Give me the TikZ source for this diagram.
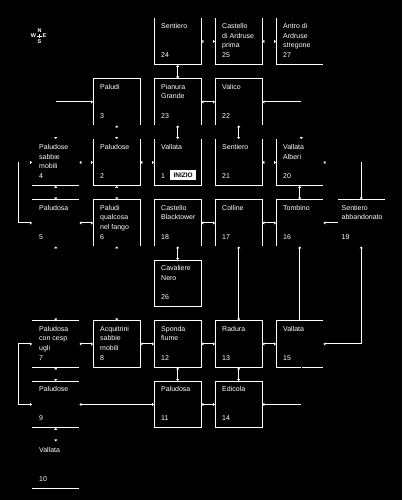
\documentclass[tikz,border=0pt]{standalone}
\usepackage{fontspec}
\setmainfont{Liberation Sans}
\usetikzlibrary{arrows.meta}
\tikzset{
  tp/.tip={Latex[length=2pt,width=3.6pt]},
  wtp/.tip={Latex[length=2pt,width=3.6pt,color=white]},
  box/.style={draw=none,minimum width=47pt,minimum height=46.5pt,inner sep=0pt,anchor=north west},
  edge/.style={white,line width=1pt},
  txt/.style={text=white,anchor=north west,inner sep=0pt,align=left,font=\fontsize{7}{9.5}\selectfont},
  num/.style={text=white,anchor=base west,inner sep=0pt,font=\fontsize{7}{9.5}\selectfont},
  link/.style={white,line width=1pt},
  ghost/.style={black,line width=1pt},
  cmp/.style={text=white,inner sep=0pt,font=\fontsize{5.5}{6}\selectfont\bfseries},
}
\newcommand{\rt}[3]{%
  \node[txt] (t#1) at ([shift={(7,5.5)}]b#1.north west) {#2};
  \node[num] (n#1) at ([shift={(7,39.5)}]b#1.north west) {#3};}
\begin{document}
\begin{tikzpicture}[x=1pt,y=-1pt]
\fill[black] (0,0) rectangle (402,500);
\useasboundingbox (0,0) rectangle (402,500);

% compass
\node[cmp] (cn) at (39.5,30.5) {N};
\node[cmp] (cw) at (33.5,36) {W};
\node[cmp] (ce) at (44.5,36) {E};
\node[cmp] (cs) at (39.5,41.5) {S};
\draw[white,line width=0.7pt] (37.3,36) -- (41.7,36) (39.5,34) -- (39.5,38);

% boxes
\node[box] (b24) at (154,18) {};
\node[box] (b25) at (215,18) {};
\node[box] (b27) at (276,18) {};
\node[box] (b3)  at (93,78.5) {};
\node[box] (b23) at (154,78.5) {};
\node[box] (b22) at (215,78.5) {};
\node[box] (b4)  at (32,139) {};
\node[box] (b2)  at (93,139) {};
\node[box] (b1)  at (154,139) {};
\node[box] (b21) at (215,139) {};
\node[box] (b20) at (276,139) {};
\node[box] (b5)  at (32,199.5) {};
\node[box] (b6)  at (93,199.5) {};
\node[box] (b18) at (154,199.5) {};
\node[box] (b17) at (215,199.5) {};
\node[box] (b16) at (276,199.5) {};
\node[box] (b19) at (337.5,199.5) {};
\node[box] (b26) at (154,260) {};
\node[box] (b7)  at (32,320.5) {};
\node[box] (b8)  at (93,320.5) {};
\node[box] (b12) at (154,320.5) {};
\node[box] (b13) at (215,320.5) {};
\node[box] (b15) at (276,320.5) {};
\node[box] (b9)  at (32,381) {};
\node[box] (b11) at (154,381) {};
\node[box] (b14) at (215,381) {};
\node[box] (b10) at (32,441.5) {};

% visible box edges
\foreach \b in {b24,b25,b2,b1,b21}
  \draw[edge] (\b.north west) |- (\b.south east) -- (\b.north east);
\foreach \b in {b3,b23,b22,b6,b18,b17}
  \draw[edge] (\b.south west) |- (\b.north east) -- (\b.south east);
\foreach \b in {b27,b20}
  \draw[edge] (\b.north west) |- (\b.south east);
\foreach \b in {b4,b10,b7,b9}
  \draw[edge] (\b.south west) -- (\b.south east);
\foreach \b in {b5,b19,b7,b9}
  \draw[edge] (\b.north west) -- (\b.north east);
\draw[edge] (b16.south west) |- (b16.north east);
\foreach \b in {b26,b8,b12,b13,b11,b14}
  \draw[edge] (\b.north west) rectangle (\b.south east);
\draw[edge] (b15.north east) -| (b15.south west) -- (b15.south east);

% texts
\rt{24}{Sentiero}{24}
\rt{25}{Castello\\di Ardruse\\prima}{25}
\rt{27}{Antro di\\Ardruse\\stregone}{27}
\rt{3}{Paludi}{3}
\rt{23}{Pianura\\Grande}{23}
\rt{22}{Valico}{22}
\rt{4}{Paludose\\sabbie\\mobili}{4}
\rt{2}{Paludose}{2}
\rt{1}{Vallata}{1}
\rt{21}{Sentiero}{21}
\rt{20}{Vallata\\Alberi}{20}
\rt{5}{Paludosa}{5}
\rt{6}{Paludi\\qualcosa\\nel fango}{6}
\rt{18}{Castello\\Blacktower}{18}
\rt{17}{Colline}{17}
\rt{16}{Tombino}{16}
\node[txt] (t19) at ([shift={(4,5.5)}]b19.north west) {Sentiero\\abbandonato};
\node[num] (n19) at ([shift={(4,39.5)}]b19.north west) {19};
\rt{26}{Cavaliere\\Nero}{26}
\rt{7}{Paludosa\\con cesp\\ugli}{7}
\rt{8}{Acquitrini\\sabbie\\mobili}{8}
\rt{12}{Sponda\\fiume}{12}
\rt{13}{Radura}{13}
\rt{15}{Vallata}{15}
\rt{9}{Paludose}{9}
\rt{11}{Paludosa}{11}
\rt{14}{Edicola}{14}
\rt{10}{Vallata}{10}
\node[fill=white,text=black,inner sep=0pt,minimum width=26pt,minimum height=10pt,anchor=north west,font=\fontsize{6.5}{7}\selectfont\bfseries] (start) at ([shift={(16,31)}]b1.north west) {INIZIO};

% connectors: row 1
\draw[ghost,wtp-wtp] (b24.east) -- (b25.west);
\draw[ghost,wtp-wtp] (b25.east) -- (b27.west);
\draw[link,tp-tp] (b24.south) -- (b23.north);
% row 2
\coordinate (e4) at (b4.north |- b3.west);
\draw[ghost,wtp-] (b4.north) -- (e4);
\draw[link,-tp] (e4) -- (b3.west);
\draw[link,tp-tp] (b23.east) -- (b22.west);
\coordinate (e20a) at ([xshift=1.5pt]b20.north);
\coordinate (e20b) at (e20a |- b22.east);
\draw[ghost,wtp-] (e20a) -- (e20b);
\draw[link,-tp] (e20b) -- (b22.east);
\draw[ghost,wtp-wtp] (b3.south) -- (b2.north);
\draw[link,tp-tp] (b23.south) -- (b1.north);
\draw[link,tp-tp] (b22.south) -- (b21.north);
% row 3
\draw[ghost,wtp-wtp] (b4.east) -- (b2.west);
\draw[ghost,wtp-wtp] (b2.east) -- (b1.west);
\draw[ghost,wtp-wtp] (b21.east) -- (b20.west);
\coordinate (e19) at (b19.north |- b20.east);
\draw[ghost,wtp-] (b20.east) -- (e19);
\draw[link,-tp] (e19) -- (b19.north);
\coordinate (l4) at ([xshift=-14pt]b4.west);
\coordinate (l5) at (l4 |- b5.west);
\draw[ghost,wtp-] (b4.west) -- (l4);
\draw[link,-tp] (l4) -- (l5) -- (b5.west);
\draw[ghost,wtp-wtp] (b4.south) -- (b5.north);
\draw[ghost,wtp-wtp] (b2.south) -- (b6.north);
\draw[link,tp-tp] (b20.south) -- (b16.north);
% row 4
\draw[link,tp-tp] (b5.east) -- (b6.west);
\draw[link,tp-tp] (b18.east) -- (b17.west);
\draw[link,tp-tp] (b17.east) -- (b16.west);
\draw[link,-tp] (b19.west) -- (b16.east);
\draw[ghost,wtp-wtp] (b5.south) -- (b7.north);
\draw[ghost,wtp-wtp] (b6.south) -- (b8.north);
\draw[link,tp-tp] (b18.south) -- (b26.north);
\draw[link,tp-tp] (b17.south) -- (b13.north);
\draw[link,-tp] (b15.north) -- (b16.south);
\coordinate (c19) at (b19.south |- b15.east);
\draw[link,tp-tp] (b19.south) -- (c19) -- (b15.east);
% row 6
\coordinate (l7) at ([xshift=-14pt]b7.west);
\coordinate (l9) at (l7 |- b9.west);
\draw[link,tp-tp] (b7.west) -- (l7) -- (l9) -- (b9.west);
\draw[link,tp-tp] (b7.east) -- (b8.west);
\draw[link,tp-tp] (b8.east) -- (b12.west);
\draw[link,tp-tp] (b12.east) -- (b13.west);
\draw[link,tp-tp] (b13.east) -- (b15.west);
\draw[ghost,wtp-wtp] (b7.south) -- (b9.north);
\draw[link,tp-tp] (b12.south) -- (b11.north);
\draw[link,tp-tp] (b13.south) -- (b14.north);
% row 7
\draw[link,tp-tp] (b9.east) -- (b11.west);
\draw[link,tp-tp] (b11.east) -- (b14.west);
\coordinate (e15a) at ([xshift=1.5pt]b15.south);
\coordinate (e15b) at (e15a |- b14.east);
\draw[ghost] (e15a) -- (e15b);
\draw[link,-tp] (e15b) -- (b14.east);
\draw[ghost,wtp-wtp] (b9.south) -- (b10.north);
\end{tikzpicture}
\end{document}
